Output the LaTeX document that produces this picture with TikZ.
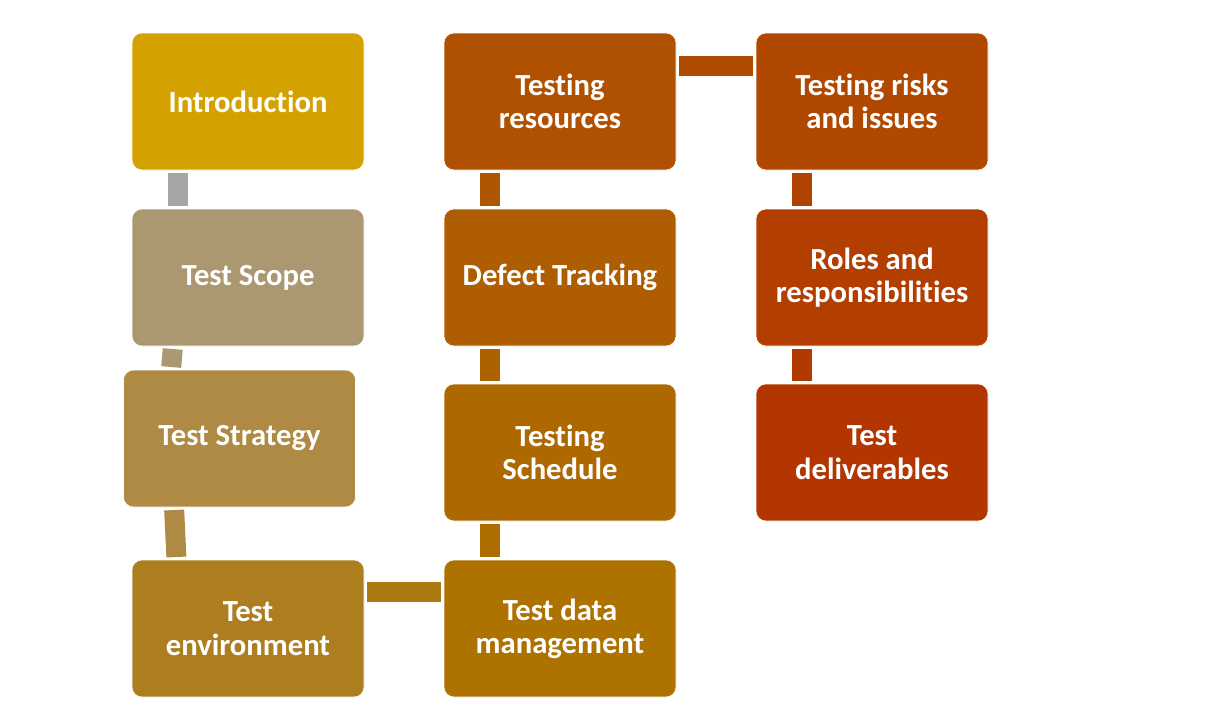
\documentclass[tikz,border=0pt]{standalone}
\usepackage{fontspec}
\setmainfont{Carlito}[Ligatures=NoCommon]

\definecolor{cIntro}{HTML}{D4A200}
\definecolor{cScope}{HTML}{AC9870}
\definecolor{cStrat}{HTML}{AE8A45}
\definecolor{cEnv}{HTML}{AD7E1F}
\definecolor{cData}{HTML}{AD7200}
\definecolor{cSched}{HTML}{AD6800}
\definecolor{cDefect}{HTML}{AE5D00}
\definecolor{cRes}{HTML}{AF5100}
\definecolor{cRisk}{HTML}{B04800}
\definecolor{cRoles}{HTML}{B23E00}
\definecolor{cDeliv}{HTML}{B33500}
\definecolor{cGray}{HTML}{A6A6A6}

\begin{document}
\begin{tikzpicture}
  % Plan
  \begin{scope}[x=0.75pt, y=-0.75pt, every node/.style={draw=white, line width=0.4pt, rounded corners=7.5pt, minimum width=174pt, minimum height=102.75pt, inner sep=0pt, outer sep=0pt, align=center, text=white, font=\bfseries\fontsize{23}{25}\selectfont}, joint/.style={line width=15pt, shorten <=2.25pt, shorten >=2.25pt}]
    \useasboundingbox (0,0) rectangle (1216,722);

    \node[fill=cIntro] (n00) at (248,101.5) {Introduction};
    \node[fill=cScope] (n01) at (248,277.5) {Test Scope};
    \node[fill=cStrat] (n02) at (239.5,438.5) {Test Strategy};
    \node[fill=cEnv] (n03) at (248,628.5) {Test\\environment};

    \node[fill=cRes] (n10) at (560,101.5) {Testing\\resources};
    \node[fill=cDefect] (n11) at (560,277.5) {Defect Tracking};
    \node[fill=cSched] (n12) at (560,452.5) {Testing\\Schedule};
    \node[fill=cData] (n13) at (560,628.5) {Test data\\management};

    \node[fill=cRisk] (n20) at (872,101.5) {Testing risks\\and issues};
    \node[fill=cRoles] (n21) at (872,277.5) {Roles and\\responsibilities};
    \node[fill=cDeliv] (n22) at (872,452.5) {Test\\deliverables};

    \draw[joint, cGray] ([xshift=34.5pt]n00.south west) -- ([xshift=34.5pt]n01.north west);
    \draw[joint, cScope] ([xshift=30.75pt]n01.south west) -- ([xshift=35.6pt]n02.north west);
    \draw[joint, cStrat] ([xshift=37.9pt]n02.south west) -- ([xshift=33.4pt]n03.north west);
    \draw[joint, cEnv!60!cData] ([yshift=-24pt]n03.north east) -- ([yshift=-24pt]n13.north west);

    \draw[joint, cData!50!cSched] ([xshift=34.5pt]n13.north west) -- ([xshift=34.5pt]n12.south west);
    \draw[joint, cSched!50!cDefect] ([xshift=34.5pt]n12.north west) -- ([xshift=34.5pt]n11.south west);
    \draw[joint, cDefect!50!cRes] ([xshift=34.5pt]n11.north west) -- ([xshift=34.5pt]n10.south west);
    \draw[joint, cRes!50!cRisk] ([yshift=-24.75pt]n10.north east) -- ([yshift=-24.75pt]n20.north west);

    \draw[joint, cRisk!50!cRoles] ([xshift=34.5pt]n20.south west) -- ([xshift=34.5pt]n21.north west);
    \draw[joint, cRoles!50!cDeliv] ([xshift=34.5pt]n21.south west) -- ([xshift=34.5pt]n22.north west);
  \end{scope}
\end{tikzpicture}
\end{document}
